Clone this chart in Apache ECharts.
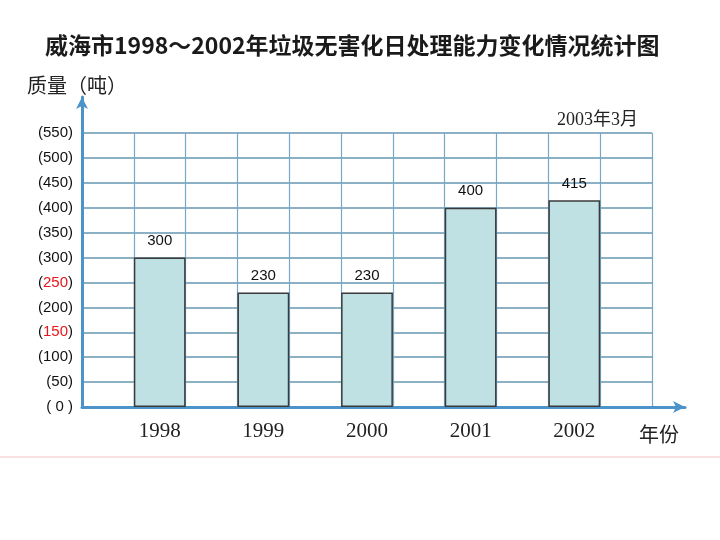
<!DOCTYPE html>
<html><head><meta charset="utf-8">
<script src="https://cdn.jsdelivr.net/npm/echarts@6/dist/echarts.min.js"></script>
<style>html,body{margin:0;padding:0;background:#fff}#c{width:720px;height:540px}</style>
</head><body><div id="c"></div>
<script>
const years = ['1998', '1999', '2000', '2001', '2002'];
const values = [300, 230, 230, 400, 415];
const yTicks = [0, 50, 100, 150, 200, 250, 300, 350, 400, 450, 500, 550];
const redTicks = [150, 250];

// 11 slots: empty, year, empty, year, ... empty
const slots = [], slotVals = [];
years.forEach((y, i) => { slots.push(''); slotVals.push(null); slots.push(y); slotVals.push(values[i]); });
slots.push(''); slotVals.push(null);

const chart = echarts.init(document.getElementById('c'), null, {renderer: 'canvas'});
const axisBlue = '#4b93c9';
chart.setOption({
  backgroundColor: '#fff',
  animation: false,
  title: [
    {text: '威海市1998～2002年垃圾无害化日处理能力变化情况统计图', left: 40, top: 29,
     textStyle: {fontFamily: 'Noto Sans CJK SC', fontSize: 23, fontWeight: 'bold', color: '#1a1a1a'}},
    {text: '质量（吨）', left: 22, top: 70,
     textStyle: {fontFamily: 'Noto Sans CJK SC', fontSize: 20, fontWeight: 'normal', color: '#222'}},
    {text: '2003年3月', left: 552, top: 106,
     textStyle: {fontFamily: 'Liberation Serif, Noto Sans CJK SC', fontSize: 18, fontWeight: 'normal', color: '#222'}},
    {text: '年份', left: 634, top: 419,
     textStyle: {fontFamily: 'Noto Sans CJK SC', fontSize: 20, fontWeight: 'normal', color: '#222'}}
  ],
  graphic: [{type: 'line', shape: {x1: 0, y1: 457, x2: 720, y2: 457}, style: {stroke: '#f4c4c6', lineWidth: 1}, z: 0}],
  grid: [
    {left: 82, right: 68, top: 133, bottom: 133},
    {left: 82, right: 35, top: 97, bottom: 133}
  ],
  xAxis: [
    {type: 'category', gridIndex: 0, data: slots, boundaryGap: true,
     axisLine: {show: false}, axisTick: {show: false},
     axisLabel: {interval: 0, margin: 14, fontFamily: 'Liberation Serif', fontSize: 21, color: '#222'},
     splitLine: {show: true, interval: 0, lineStyle: {color: '#75a9c8', width: 1.2}}},
    {type: 'value', gridIndex: 1, min: 0, max: 1,
     axisLine: {show: true, symbol: ['none', 'arrow'], symbolSize: [9, 12], lineStyle: {color: axisBlue, width: 3}},
     axisTick: {show: false}, axisLabel: {show: false}, splitLine: {show: false}}
  ],
  yAxis: [
    {type: 'value', gridIndex: 0, min: 0, max: 550, interval: 50,
     axisLine: {show: false}, axisTick: {show: false},
     axisLabel: {margin: 9, fontFamily: 'Liberation Sans', fontSize: 15, color: '#111',
       formatter: v => v === 0 ? '( 0 )' : (redTicks.includes(v) ? '({r|' + v + '})' : '(' + v + ')'),
       rich: {r: {color: '#e8141a', fontFamily: 'Liberation Sans', fontSize: 15}}},
     splitLine: {show: true, lineStyle: {color: '#6797b1', width: 1.6}}},
    {type: 'value', gridIndex: 1, min: 0, max: 1,
     axisLine: {show: true, symbol: ['none', 'arrow'], symbolSize: [9, 12], lineStyle: {color: axisBlue, width: 3}},
     axisTick: {show: false}, axisLabel: {show: false}, splitLine: {show: false}}
  ],
  series: [{
    type: 'bar', xAxisIndex: 0, yAxisIndex: 0, data: slotVals, barWidth: '100%',
    itemStyle: {color: '#bfe1e4', borderColor: '#3a3a3a', borderWidth: 1.5},
    label: {show: true, position: 'top', distance: 9, fontFamily: 'Liberation Sans', fontSize: 15, color: '#111'},
    z: 3
  }]
});
</script></body></html>
